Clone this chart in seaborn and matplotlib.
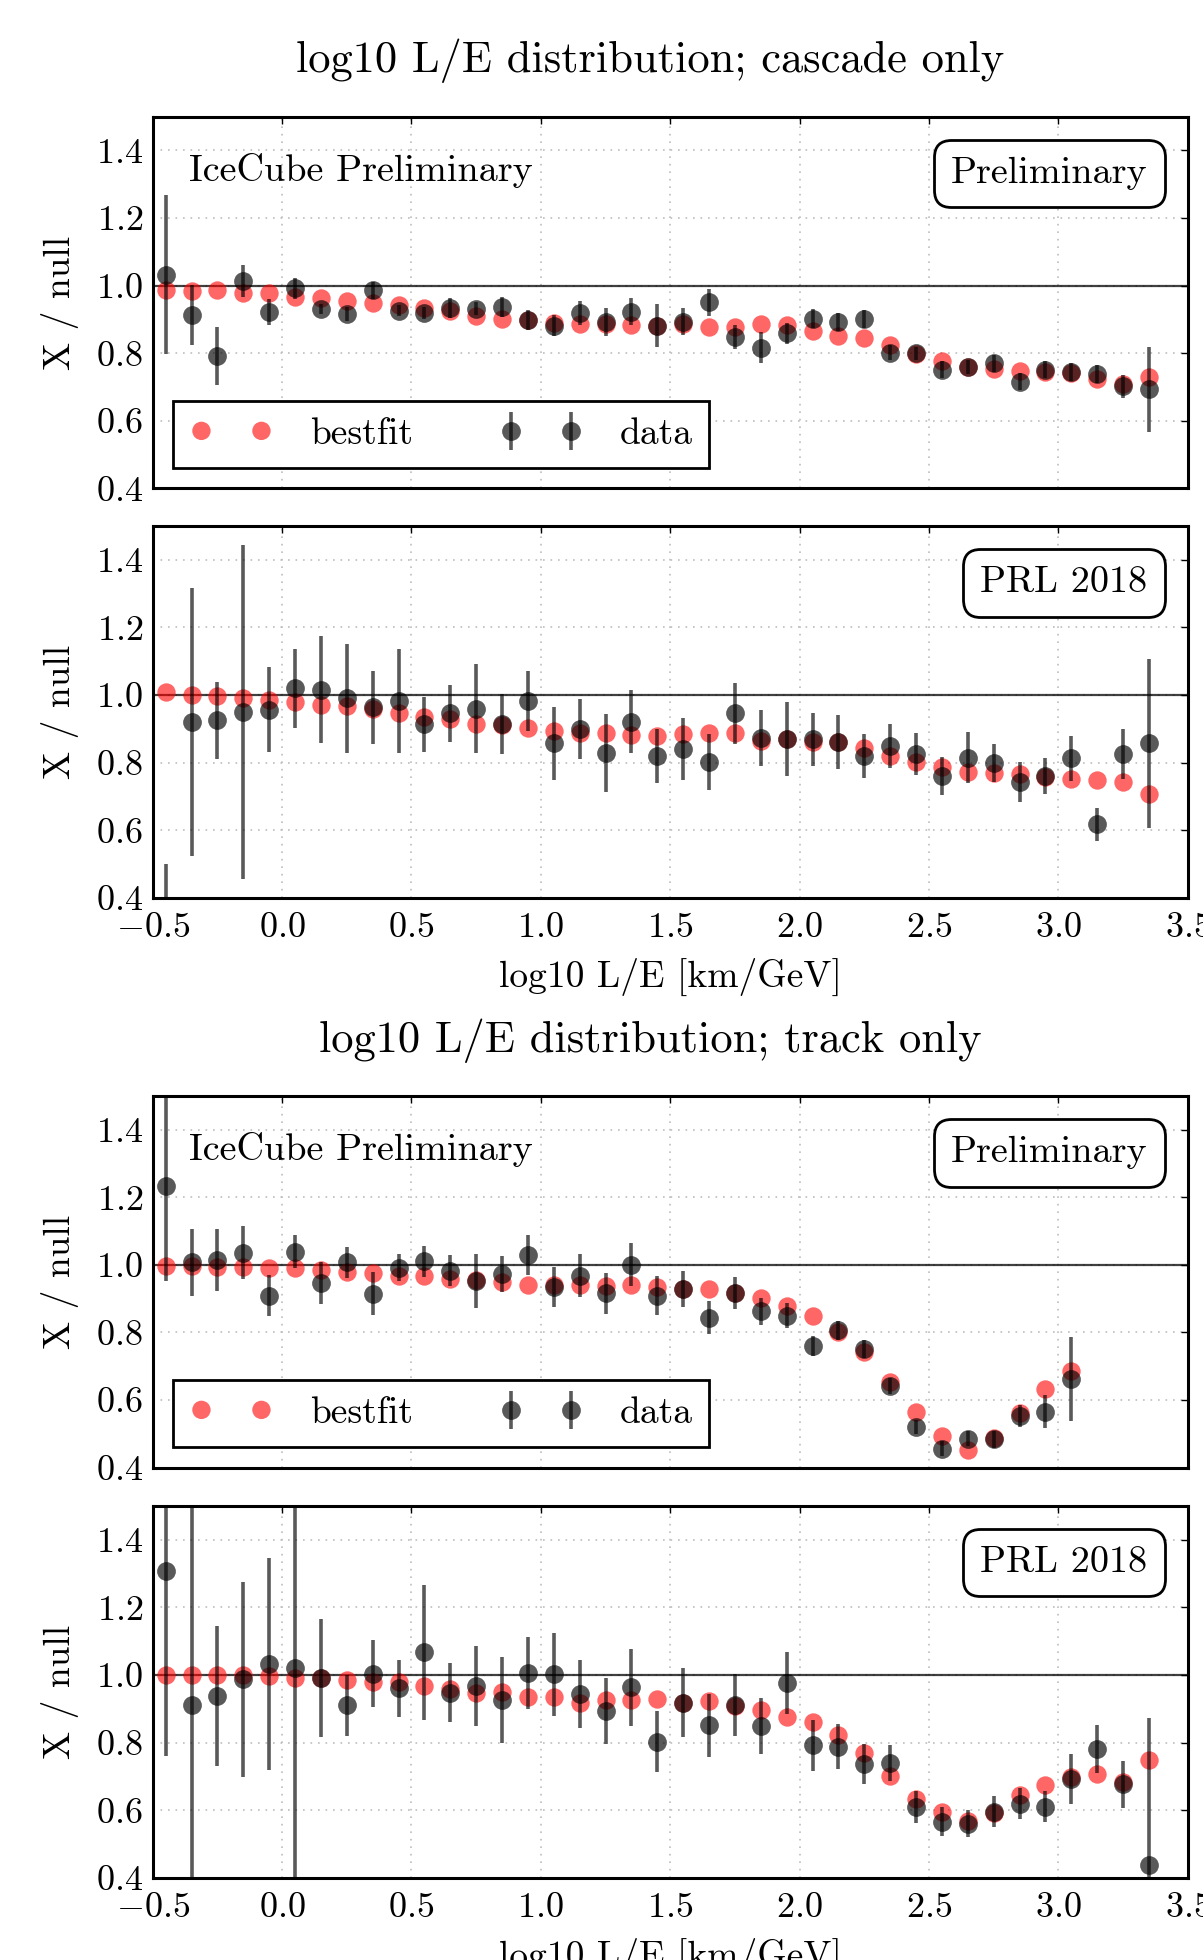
import numpy as np
import pandas as pd
import matplotlib
matplotlib.use("Agg")
import matplotlib.pyplot as plt
import seaborn as sns
from matplotlib.offsetbox import AnchoredText

# bin centres in log10 L/E [km/GeV]
log_le = [-0.45, -0.35, -0.25, -0.15, -0.05, 0.05, 0.15, 0.25, 0.35, 0.45,
          0.55, 0.65, 0.75, 0.85, 0.95, 1.05, 1.15, 1.25, 1.35, 1.45,
          1.55, 1.65, 1.75, 1.85, 1.95, 2.05, 2.15, 2.25, 2.35, 2.45,
          2.55, 2.65, 2.75, 2.85, 2.95, 3.05, 3.15, 3.25, 3.35]

# cascade sample, preliminary
casc_pre_fit = [0.986, 0.984, 0.986, 0.979, 0.977, 0.967, 0.965, 0.956, 0.948, 0.944,
                0.934, 0.924, 0.909, 0.902, 0.898, 0.891, 0.887, 0.886, 0.883, 0.882,
                0.886, 0.877, 0.877, 0.888, 0.884, 0.866, 0.851, 0.844, 0.825, 0.798,
                0.778, 0.760, 0.753, 0.749, 0.746, 0.741, 0.723, 0.709, 0.731]
casc_pre_data = [1.033, 0.914, 0.792, 1.014, 0.922, 0.992, 0.930, 0.916, 0.986, 0.926,
                 0.920, 0.934, 0.932, 0.936, 0.898, 0.882, 0.920, 0.893, 0.923, 0.882,
                 0.893, 0.951, 0.849, 0.817, 0.859, 0.902, 0.893, 0.902, 0.802, 0.800,
                 0.751, 0.760, 0.770, 0.716, 0.751, 0.745, 0.739, 0.702, 0.694]
casc_pre_err = [0.236, 0.088, 0.086, 0.046, 0.038, 0.032, 0.015, 0.020, 0.026, 0.017,
                0.018, 0.030, 0.020, 0.030, 0.030, 0.030, 0.035, 0.042, 0.040, 0.063,
                0.040, 0.040, 0.036, 0.045, 0.032, 0.028, 0.026, 0.026, 0.022, 0.020,
                0.025, 0.020, 0.025, 0.025, 0.025, 0.027, 0.027, 0.035, 0.126]

# cascade sample, PRL 2018
casc_prl_fit = [1.010, 1.000, 0.998, 0.992, 0.985, 0.980, 0.970, 0.968, 0.959, 0.946,
                0.934, 0.929, 0.914, 0.911, 0.904, 0.895, 0.887, 0.889, 0.882, 0.880,
                0.886, 0.889, 0.887, 0.865, 0.870, 0.862, 0.860, 0.843, 0.821, 0.801,
                0.788, 0.773, 0.771, 0.766, 0.757, 0.751, 0.748, 0.742, 0.707]
casc_prl_data = [0.300, 0.920, 0.926, 0.950, 0.957, 1.020, 1.016, 0.990, 0.964, 0.982,
                 0.914, 0.946, 0.960, 0.914, 0.983, 0.857, 0.900, 0.828, 0.921, 0.820,
                 0.841, 0.801, 0.946, 0.873, 0.870, 0.869, 0.860, 0.821, 0.850, 0.826,
                 0.761, 0.815, 0.798, 0.744, 0.762, 0.813, 0.618, 0.826, 0.857]
casc_prl_err = [0.200, 0.397, 0.114, 0.495, 0.125, 0.117, 0.159, 0.161, 0.108, 0.154,
                0.081, 0.085, 0.131, 0.088, 0.089, 0.109, 0.089, 0.115, 0.093, 0.081,
                0.092, 0.083, 0.090, 0.083, 0.110, 0.078, 0.080, 0.065, 0.065, 0.062,
                0.056, 0.075, 0.056, 0.059, 0.053, 0.066, 0.049, 0.074, 0.251]

# track sample, preliminary (first 36 bins populated)
trk_pre_fit = [0.997, 0.997, 0.995, 0.993, 0.992, 0.990, 0.985, 0.978, 0.975, 0.967,
               0.966, 0.958, 0.956, 0.949, 0.941, 0.941, 0.941, 0.938, 0.941, 0.934,
               0.928, 0.930, 0.916, 0.901, 0.879, 0.850, 0.800, 0.741, 0.652, 0.564,
               0.493, 0.453, 0.486, 0.560, 0.631, 0.685]
trk_pre_data = [1.234, 1.008, 1.014, 1.036, 0.909, 1.039, 0.946, 1.008, 0.915, 0.992,
                1.010, 0.982, 0.951, 0.973, 1.029, 0.934, 0.968, 0.916, 1.000, 0.909,
                0.928, 0.843, 0.916, 0.862, 0.849, 0.759, 0.806, 0.751, 0.642, 0.520,
                0.456, 0.485, 0.483, 0.552, 0.565, 0.662]
trk_pre_err = [0.283, 0.099, 0.092, 0.079, 0.060, 0.048, 0.062, 0.046, 0.064, 0.040,
               0.045, 0.046, 0.080, 0.052, 0.058, 0.059, 0.064, 0.061, 0.064, 0.057,
               0.054, 0.049, 0.047, 0.041, 0.037, 0.030, 0.027, 0.026, 0.024, 0.022,
               0.022, 0.022, 0.025, 0.033, 0.049, 0.123]

# track sample, PRL 2018
trk_prl_fit = [1.000, 1.000, 1.000, 1.000, 0.997, 0.992, 0.992, 0.985, 0.979, 0.980,
               0.966, 0.958, 0.948, 0.951, 0.936, 0.936, 0.918, 0.926, 0.925, 0.930,
               0.918, 0.923, 0.908, 0.896, 0.877, 0.861, 0.823, 0.770, 0.702, 0.633,
               0.596, 0.569, 0.593, 0.644, 0.674, 0.697, 0.706, 0.684, 0.749]
trk_prl_data = [1.307, 0.911, 0.938, 0.987, 1.032, 1.020, 0.990, 0.910, 1.004, 0.960,
                1.067, 0.948, 0.967, 0.926, 1.006, 1.002, 0.943, 0.894, 0.963, 0.803,
                0.918, 0.851, 0.911, 0.849, 0.977, 0.792, 0.788, 0.738, 0.741, 0.610,
                0.566, 0.561, 0.596, 0.620, 0.611, 0.692, 0.782, 0.677, 0.438]
trk_prl_err = [0.546, 0.700, 0.207, 0.288, 0.313, 0.750, 0.174, 0.090, 0.099, 0.085,
               0.200, 0.088, 0.118, 0.128, 0.107, 0.122, 0.101, 0.098, 0.115, 0.091,
               0.101, 0.093, 0.092, 0.083, 0.091, 0.076, 0.067, 0.059, 0.053, 0.048,
               0.043, 0.041, 0.045, 0.047, 0.047, 0.073, 0.071, 0.070, 0.436]

group_titles = ["log10 L/E distribution; cascade only",
                "log10 L/E distribution; track only"]
x_label = "log10 L/E [km/GeV]"
y_label = "X / null"
x_ticks = [-0.5, 0.0, 0.5, 1.0, 1.5, 2.0, 2.5, 3.0, 3.5]
y_ticks = [0.4, 0.6, 0.8, 1.0, 1.2, 1.4]

sns.set_theme(style="white")
plt.rcParams.update({
    "font.family": "serif",
    "font.serif": ["cmr10"],
    "mathtext.fontset": "cm",
    "axes.formatter.use_mathtext": True,
    "axes.unicode_minus": True,
    "axes.edgecolor": "black",
    "text.color": "black",
    "axes.labelcolor": "black",
    "xtick.color": "black",
    "ytick.color": "black",
})

W, H = 1203, 1960
fig = plt.figure(figsize=(W / 100, H / 100), dpi=100)

# axes boxes in pixels: (top, bottom), shared left/right
ax_left, ax_right = 152.7, 1187.7
rows = [(116.7, 488.5), (526.0, 898.0), (1096.0, 1467.5), (1505.7, 1878.0)]

panels = [
    (casc_pre_fit, casc_pre_data, casc_pre_err, "Preliminary", True),
    (casc_prl_fit, casc_prl_data, casc_prl_err, "PRL 2018", False),
    (trk_pre_fit, trk_pre_data, trk_pre_err, "Preliminary", True),
    (trk_prl_fit, trk_prl_data, trk_prl_err, "PRL 2018", False),
]

for (top, bot), (fit, data, err, tag, prelim) in zip(rows, panels):
    ax = fig.add_axes([ax_left / W, 1 - bot / H, (ax_right - ax_left) / W, (bot - top) / H])
    n = len(fit)
    df = pd.DataFrame({"log_le": log_le[:n], "fit": fit, "data": data, "err": err})

    ax.grid(True, color="#bdbdbd", lw=1.2, ls=(0, (1, 3.5)), zorder=0)
    ax.axhline(1.0, color="black", lw=1.6, alpha=0.75, zorder=2)

    sns.scatterplot(data=df, x="log_le", y="fit", ax=ax, color="red", alpha=0.6,
                    s=175, linewidth=0, label="bestfit", zorder=3, legend=False)
    ax.errorbar(df["log_le"], df["data"], yerr=df["err"], fmt="o", color="black",
                alpha=0.65, ms=13.5, mew=0, elinewidth=2.6, capsize=0,
                label="data", zorder=4)

    ax.set_xlim(-0.5, 3.5)
    ax.set_ylim(0.4, 1.5)
    ax.set_xticks(x_ticks)
    ax.set_yticks(y_ticks)
    ax.xaxis.set_major_formatter(matplotlib.ticker.FormatStrFormatter("$%.1f$"))
    ax.yaxis.set_major_formatter(matplotlib.ticker.FormatStrFormatter("$%.1f$"))
    ax.tick_params(direction="in", length=5, width=1, top=True, right=True,
                   labelsize=26)
    ax.tick_params(axis="y", pad=7)
    ax.tick_params(axis="x", pad=10)
    for sp in ax.spines.values():
        sp.set_linewidth(2.2)
        sp.set_color("black")

    ax.set_ylabel(y_label, fontsize=27, labelpad=12)
    if prelim:
        ax.set_xlabel("")
        ax.tick_params(axis="x", labelbottom=False)
        ax.text(0.035, 0.855, "IceCube Preliminary", transform=ax.transAxes,
                fontsize=27.5, ha="left", va="center")
        leg = ax.legend(loc="lower left", ncol=2, numpoints=2, scatterpoints=2,
                        scatteryoffsets=[0.5], fontsize=27, frameon=True,
                        fancybox=False, framealpha=1, edgecolor="black",
                        borderaxespad=0.55, borderpad=0.45, columnspacing=2.3,
                        handletextpad=1.0, handlelength=2.2)
        leg.get_frame().set_linewidth(2.0)
    else:
        ax.set_xlabel(x_label, fontsize=27, labelpad=10)

    at = AnchoredText(tag, loc="upper right", prop=dict(size=27.5),
                      frameon=True, pad=0.45, borderpad=0.6)
    at.patch.set_boxstyle("round,pad=0.,rounding_size=0.45")
    at.patch.set_linewidth(2.0)
    at.patch.set_edgecolor("black")
    ax.add_artist(at)

fig.text(650 / W, 1 - 61 / H, group_titles[0], fontsize=32, ha="center", va="center")
fig.text(650 / W, 1 - 1041 / H, group_titles[1], fontsize=32, ha="center", va="center")

fig.savefig("out.png", dpi=100, facecolor="white")
